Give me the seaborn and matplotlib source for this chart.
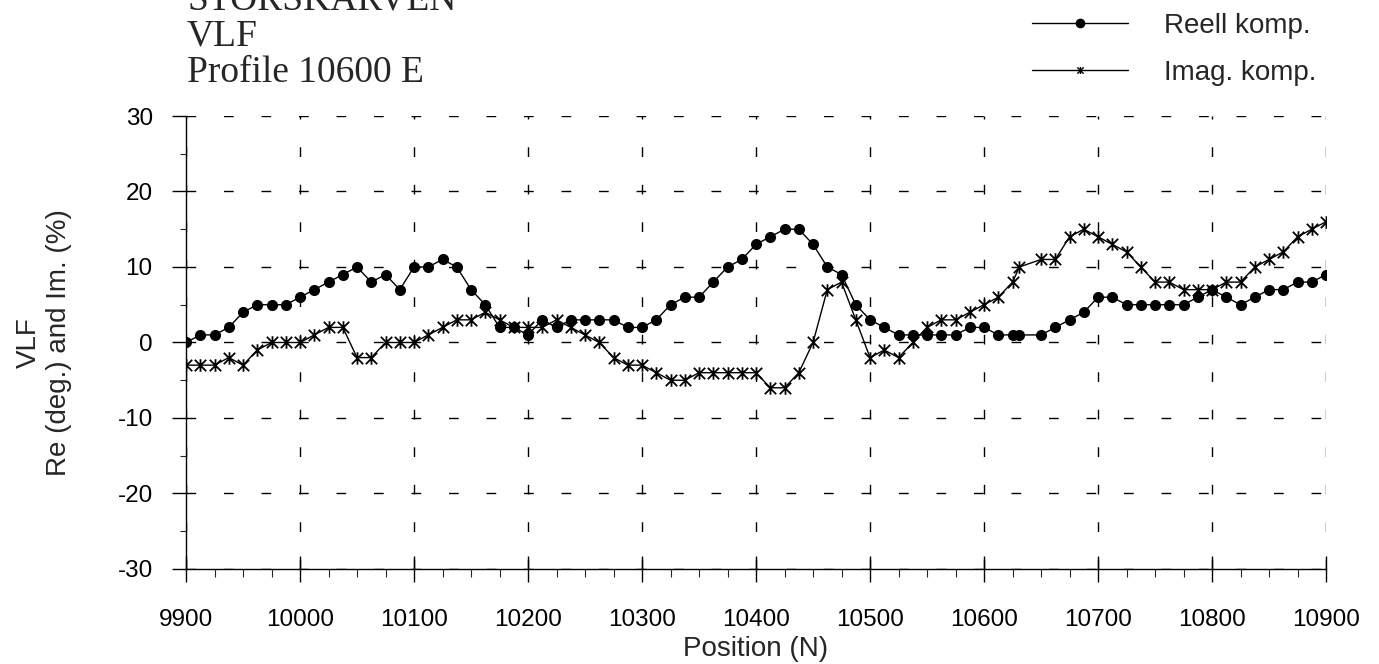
import numpy as np
import pandas as pd
import matplotlib
matplotlib.use("Agg")
import matplotlib.pyplot as plt
from matplotlib.path import Path
from matplotlib.lines import Line2D
from matplotlib.ticker import MultipleLocator
import seaborn as sns

# Station positions (N), 12.5 m spacing with one station at 10631
position = [9900 + 12.5 * i for i in range(59)] + [10631] + [9900 + 12.5 * i for i in range(60, 81)]

# Real component (degrees)
reell = [0, 1, 1, 2, 4, 5, 5, 5, 6, 7,
         8, 9, 10, 8, 9, 7, 10, 10, 11, 10,
         7, 5, 2, 2, 1, 3, 2, 3, 3, 3,
         3, 2, 2, 3, 5, 6, 6, 8, 10, 11,
         13, 14, 15, 15, 13, 10, 9, 5, 3, 2,
         1, 1, 1, 1, 1, 2, 2, 1, 1, 1,
         1, 2, 3, 4, 6, 6, 5, 5, 5, 5,
         5, 6, 7, 6, 5, 6, 7, 7, 8, 8,
         9]

# Imaginary component (%)
imag = [-3, -3, -3, -2, -3, -1, 0, 0, 0, 1,
        2, 2, -2, -2, 0, 0, 0, 1, 2, 3,
        3, 4, 3, 2, 2, 2, 3, 2, 1, 0,
        -2, -3, -3, -4, -5, -5, -4, -4, -4, -4,
        -4, -6, -6, -4, 0, 7, 8, 3, -2, -1,
        -2, 0, 2, 3, 3, 4, 5, 6, 8, 10,
        11, 11, 14, 15, 14, 13, 12, 10, 8, 8,
        7, 7, 7, 8, 8, 10, 11, 12, 14, 15,
        16]

title_lines = ["STORSKARVEN", "VLF", "Profile 10600 E"]
series_labels = ["Reell komp.", "Imag. komp."]
x_ticks = list(range(9900, 10901, 100))
y_ticks = list(range(-30, 31, 10))

df = pd.DataFrame({"Position": position, "Reell": reell, "Imag": imag})

sns.set_style("ticks")
plt.rcParams["font.family"] = ["Liberation Sans", "DejaVu Sans"]
plt.rcParams["axes.unicode_minus"] = False

# x-with-vertical-bar marker for the imaginary component
star_marker = Path(
    [(-1, -1), (1, 1), (-1, 1), (1, -1), (0, -1.1), (0, 1.1)],
    [Path.MOVETO, Path.LINETO, Path.MOVETO, Path.LINETO, Path.MOVETO, Path.LINETO],
)

fig = plt.figure(figsize=(13.79, 6.64), dpi=100)
ax = fig.add_axes([0.1349, 0.1431, 0.8267, 0.6822])

sns.lineplot(data=df, x="Position", y="Reell", ax=ax, color="black", lw=1.0,
             marker="o", markersize=8, markeredgewidth=0, estimator=None)
sns.lineplot(data=df, x="Position", y="Imag", ax=ax, color="black", lw=1.0,
             marker=star_marker, markersize=9, markeredgewidth=1.3,
             markerfacecolor="none", markeredgecolor="black", estimator=None)

ax.set_xlim(9900, 10900)
ax.set_ylim(-30, 30)
ax.set_xticks(x_ticks)
ax.set_yticks(y_ticks)
ax.xaxis.set_minor_locator(MultipleLocator(25))
ax.yaxis.set_minor_locator(MultipleLocator(5))

for s in ["top", "right"]:
    ax.spines[s].set_visible(False)
for s in ["left", "bottom"]:
    ax.spines[s].set_linewidth(1.0)
    ax.spines[s].set_color("black")

ax.grid(True, which="major", color="black", lw=1.0, linestyle=(0, (7, 20)))

ax.tick_params(axis="x", which="major", direction="inout", length=19, width=1.0,
               labelsize=17.5, pad=19, colors="black")
ax.tick_params(axis="x", which="minor", direction="out", length=6, width=0.8)
ax.tick_params(axis="y", which="major", direction="out", length=10, width=1.0,
               labelsize=17.5, pad=14, colors="black")
ax.tick_params(axis="y", which="minor", direction="out", length=4, width=0.8)

ax.set_xlabel("Position (N)", fontsize=20, labelpad=4)
ax.set_ylabel("VLF\nRe (deg.) and Im. (%)", fontsize=20, linespacing=1.2)
ax.yaxis.set_label_coords(-0.100, 0.5)

# Heading block in serif
for txt, base in zip(title_lines, [9, 46, 82]):
    fig.text(187 / 1379, 1 - base / 664, txt, fontsize=27,
             family=["Liberation Serif", "DejaVu Serif"], va="baseline", ha="left")

handles = [
    Line2D([], [], color="black", lw=1.0, marker="o", markersize=7, markeredgewidth=0),
    Line2D([], [], color="black", lw=1.0, marker=star_marker, markersize=5,
           markeredgewidth=1.0, markerfacecolor="none"),
]
fig.legend(handles, series_labels, loc="upper left",
           bbox_to_anchor=(1032 / 1379, 1 - 13 / 664), frameon=False,
           fontsize=20, handlelength=3.45, handletextpad=1.3,
           labelspacing=0.75, borderpad=0, borderaxespad=0, numpoints=1)

fig.savefig("out.png", dpi=100)
